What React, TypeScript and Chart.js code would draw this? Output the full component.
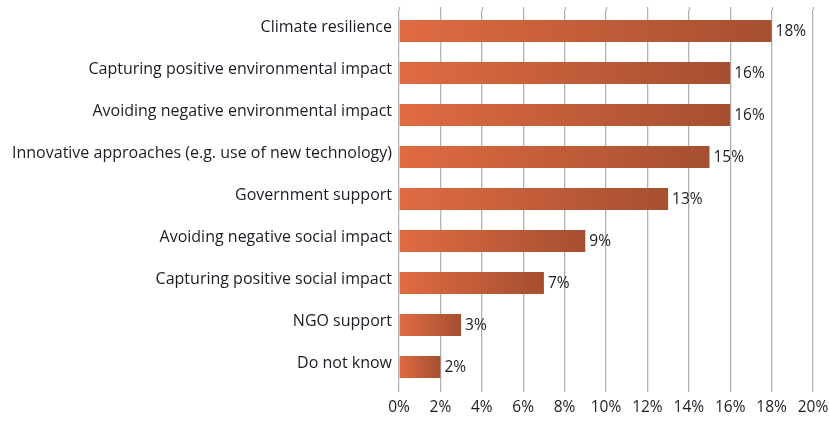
import React, { useEffect, useRef } from "react";
import { Chart, registerables } from "chart.js";

Chart.register(...registerables);

const categories: string[] = [
  "Climate resilience",
  "Capturing positive environmental impact",
  "Avoiding negative environmental impact",
  "Innovative approaches (e.g. use of new technology)",
  "Government support",
  "Avoiding negative social impact",
  "Capturing positive social impact",
  "NGO support",
  "Do not know",
];
const values: number[] = [18, 16, 16, 15, 13, 9, 7, 3, 2];
const xTicks: number[] = [0, 2, 4, 6, 8, 10, 12, 14, 16, 18, 20];

const FONT = "'Open Sans', 'Liberation Sans', sans-serif";
const TEXT = "#1c1c24";
const GRID = "#b3b3b3";

const valueLabels = {
  id: "valueLabels",
  afterDatasetsDraw(chart: any) {
    const ctx = chart.ctx;
    const meta = chart.getDatasetMeta(0);
    ctx.save();
    ctx.font = `15.5px ${FONT}`;
    ctx.fillStyle = TEXT;
    ctx.textAlign = "left";
    ctx.textBaseline = "middle";
    meta.data.forEach((bar: any, i: number) => {
      ctx.fillText(`${values[i]}%`, bar.x + 4, bar.y + 1);
    });
    ctx.restore();
  },
};

const gridTopExtension = {
  id: "gridTopExtension",
  beforeDatasetsDraw(chart: any) {
    const ctx = chart.ctx;
    const xs = chart.scales.x;
    const top = chart.chartArea.top;
    ctx.save();
    ctx.strokeStyle = GRID;
    ctx.lineWidth = 1.3;
    xTicks.forEach((v) => {
      const px = Math.round(xs.getPixelForValue(v)) + 0.5;
      ctx.beginPath();
      ctx.moveTo(px, top - 3);
      ctx.lineTo(px, top);
      ctx.stroke();
    });
    ctx.restore();
  },
};

export default function App() {
  const ref = useRef<HTMLCanvasElement | null>(null);
  useEffect(() => {
    document.body.style.margin = "0";
    const canvas = ref.current;
    if (!canvas) return;
    const chart = new Chart(canvas, {
      type: "bar",
      data: {
        labels: categories,
        datasets: [
          {
            data: values,
            backgroundColor: (c: any) => {
              const chartObj = c.chart;
              const xs = chartObj.scales?.x;
              if (!xs || !c.parsed) return "#c65d3b";
              const x0 = xs.getPixelForValue(0);
              const x1 = xs.getPixelForValue(c.parsed.x);
              if (!isFinite(x0) || !isFinite(x1) || x1 === x0) return "#c65d3b";
              const g = chartObj.ctx.createLinearGradient(x0, 0, x1, 0);
              g.addColorStop(0, "#e06b42");
              g.addColorStop(1, "#a54f31");
              return g;
            },
            borderWidth: 0,
            barPercentage: 0.52,
            categoryPercentage: 1,
          },
        ],
      },
      options: {
        indexAxis: "y",
        responsive: false,
        animation: false,
        devicePixelRatio: 1,
        layout: { padding: { top: 10, right: 16, bottom: 0, left: 0 } },
        plugins: {
          legend: { display: false },
          tooltip: { enabled: false },
        },
        scales: {
          x: {
            min: 0,
            max: 20,
            afterBuildTicks: (s: any) => {
              s.ticks = xTicks.map((v) => ({ value: v }));
            },
            afterFit: (s: any) => {
              s.height = 33;
              s.paddingLeft = 0;
              s.paddingRight = 0;
            },
            grid: {
              color: GRID,
              lineWidth: 1.3,
              drawTicks: true,
              tickLength: 4,
              tickColor: GRID,
            },
            border: { display: false },
            ticks: {
              padding: 6,
              color: TEXT,
              font: { family: FONT, size: 15.5 },
              callback: (v: any) => `${v}%`,
              maxRotation: 0,
            },
          },
          y: {
            afterFit: (s: any) => {
              s.width = 399;
              s.paddingTop = 0;
              s.paddingBottom = 0;
            },
            grid: { display: false, drawTicks: false },
            border: { display: false },
            ticks: {
              padding: 7,
              labelOffset: -4,
              color: TEXT,
              font: { family: FONT, size: 16 },
              autoSkip: false,
            },
          },
        },
      },
      plugins: [gridTopExtension, valueLabels],
    } as any);
    return () => chart.destroy();
  }, []);
  return (
    <div style={{ width: 829, height: 421, background: "#ffffff" }}>
      <canvas ref={ref} width={829} height={421} style={{ display: "block" }} />
    </div>
  );
}
